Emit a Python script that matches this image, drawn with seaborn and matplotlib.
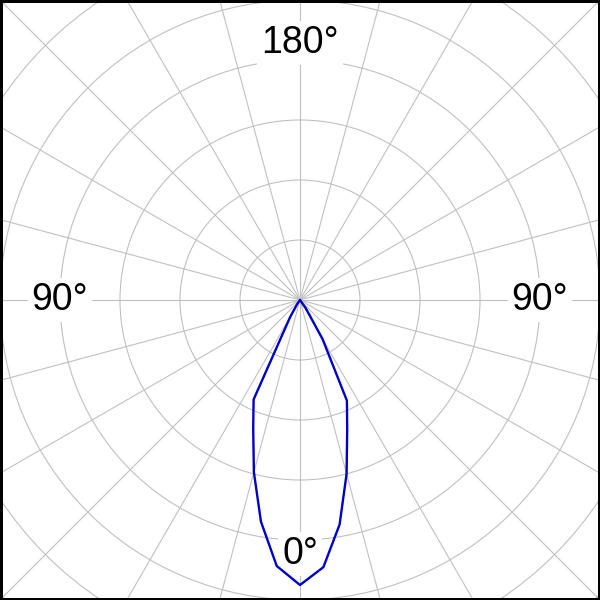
import numpy as np
import pandas as pd
import matplotlib
matplotlib.use("Agg")
import matplotlib.pyplot as plt
import seaborn as sns
from matplotlib.patches import Rectangle

# gamma angles (deg) and intensity (grid ring = 100)
gamma = [0, 5, 10, 15, 20, 25, 30, 35, 40, 90]
left_side = [475, 445, 375, 297, 228, 183, 33, 8, 0, 0]
right_side = [475, 447, 380, 300, 230, 185, 75, 17, 0, 0]

ring_values = [100, 200, 300, 400, 500, 600, 700]
labels = ['0°', '90°', '180°', '90°']
label_angles = [0, 90, 180, -90]
label_radius = [423, 400, 428, 400]

sns.set_style('white')
plt.rcParams['font.family'] = ['Liberation Sans', 'DejaVu Sans']

# one closed path: left half (negative angles) then right half
theta_deg = [-g for g in gamma[::-1]] + gamma[1:]
radius = left_side[::-1] + right_side[1:]
df = pd.DataFrame({'theta': np.deg2rad(theta_deg), 'r': radius})

fig = plt.figure(figsize=(6, 6), dpi=100)
ax = fig.add_axes([-0.3, -0.3, 1.6, 1.6], projection='polar')
ax.set_theta_zero_location('S')
ax.set_ylim(0, 800)
ax.set_xticks(np.deg2rad(np.arange(0, 360, 15)))
ax.set_yticks(ring_values)
ax.set_xticklabels([])
ax.set_yticklabels([])
ax.grid(True, color='#c0c0c0', linewidth=0.8)
ax.spines['polar'].set_visible(False)

sns.lineplot(data=df, x='theta', y='r', sort=False, estimator=None,
             color='#0000c8', linewidth=1.7, ax=ax, zorder=6)
ax.set_xlabel('')
ax.set_ylabel('')

for txt, ang, rr in zip(labels, label_angles, label_radius):
    ax.text(np.deg2rad(ang), rr, txt, fontsize=27, color='black',
            ha='center', va='center',
            bbox=dict(boxstyle='square,pad=0.1', facecolor='white', edgecolor='none'),
            zorder=5)

fig.patches.append(Rectangle((0, 0), 1, 1, transform=fig.transFigure, fill=False,
                             edgecolor='black', linewidth=3.6, zorder=10))

fig.savefig('out.png', dpi=100)
